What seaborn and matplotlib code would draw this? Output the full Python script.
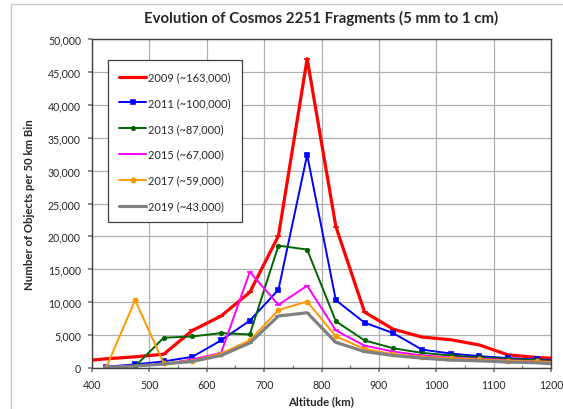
import matplotlib
matplotlib.use("Agg")
import matplotlib.pyplot as plt
import seaborn as sns
import pandas as pd
import numpy as np
from matplotlib.ticker import MultipleLocator, FuncFormatter
from matplotlib.patches import Rectangle

altitudes = [375, 425, 475, 525, 575, 625, 675, 725, 775, 825, 875, 925, 975, 1025, 1075, 1125, 1175, 1225]

s2009 = [1000, 1400, 1700, 2100, 5700, 7900, 11500, 20100, 47000, 21500, 8500, 5900, 4700, 4300, 3500, 2000, 1600, 1400]
s2011 = [None, 200, 550, 1000, 1700, 4200, 7200, 11900, 32400, 10300, 6900, 5300, 2800, 2200, 1800, 1500, 1300, 1100]
s2013 = [None, None, 250, 4600, 4800, 5300, 5100, 18600, 18000, 7100, 4200, 3000, 2300, 1900, 1600, 1400, 1200, 1000]
s2015 = [None, 150, 300, 600, 1300, 2300, 14600, 9600, 12500, 5700, 3400, 2500, 1900, 1600, 1400, 1200, 1000, 900]
s2017 = [None, 100, 10300, 750, 1100, 2200, 4200, 8800, 10100, 4800, 2900, 2100, 1700, 1500, 1300, 1100, 1000, 800]
s2019 = [None, 100, 300, 600, 1000, 1900, 3800, 7900, 8400, 3900, 2500, 1900, 1500, 1200, 1100, 900, 800, 500]

labels = ["2009 (~163,000)", "2011 (~100,000)", "2013 (~87,000)",
          "2015 (~67,000)", "2017 (~59,000)", "2019 (~43,000)"]
series = [s2009, s2011, s2013, s2015, s2017, s2019]
colors = ["#ff0000", "#0000ff", "#006400", "#ff00ff", "#ff9900", "#808080"]
markers = ["_", "s", "o", "_", "o", "_"]
msizes = [4, 3.5, 2.5, 4, 3, 4]
widths = [2.3, 1.4, 1.4, 1.4, 1.4, 2.3]

sns.set_theme(style="white")
plt.rcParams['font.family'] = ['Lato', 'DejaVu Sans']

fig = plt.figure(figsize=(5.63, 4.10), dpi=100)
ax = fig.add_axes([92/563, 1 - 369/410, (551-92)/563, (369-40)/410])

fig.patches.append(Rectangle((11/563, -0.1), 1.2, (1 - 5/410) + 0.1, transform=fig.transFigure,
                             fill=False, edgecolor="#c8c8c8", linewidth=1.0))

for lab, vals, c, m, ms, lw in zip(labels, series, colors, markers, msizes, widths):
    df = pd.DataFrame({"alt": altitudes, "val": vals}).dropna()
    sns.lineplot(data=df, x="alt", y="val", ax=ax, color=c, linewidth=lw,
                 marker=m, markersize=ms, markeredgecolor=c, markeredgewidth=1.2,
                 label=lab, clip_on=True)

ax.set_xlim(400, 1200)
ax.set_ylim(0, 50000)
ax.xaxis.set_major_locator(MultipleLocator(100))
ax.xaxis.set_minor_locator(MultipleLocator(50))
ax.yaxis.set_major_locator(MultipleLocator(5000))
ax.yaxis.set_major_formatter(FuncFormatter(lambda v, p: f"{int(v):,}"))
ax.grid(True, which="major", color="#b0b0b0", linewidth=0.9)
ax.set_axisbelow(True)
for sp in ax.spines.values():
    sp.set_color("#404040")
    sp.set_linewidth(1.0)
ax.tick_params(axis="both", which="major", labelsize=7.6, length=3, color="#808080",
               direction="out", bottom=True, left=True, pad=5)
ax.tick_params(axis="x", which="minor", length=2, color="#808080", direction="in", bottom=True)

ax.set_xlabel("Altitude (km)", fontsize=8.2, fontweight="bold", labelpad=4)
ax.set_ylabel("Number of Objects per 50 km Bin", fontsize=8.2, fontweight="bold", labelpad=9)
ax.set_title("Evolution of Cosmos 2251 Fragments (5 mm to 1 cm)", fontsize=10.8,
             fontweight="bold", pad=12)

leg = ax.legend(loc="upper left", bbox_to_anchor=(0.035, 0.935), fontsize=7.9,
                frameon=True, fancybox=False, edgecolor="#404040", framealpha=1,
                labelspacing=1.35, handlelength=2.5, handletextpad=0.15,
                borderpad=1.0, borderaxespad=0)
leg.get_frame().set_linewidth(0.9)

fig.savefig("out.png", dpi=100)
